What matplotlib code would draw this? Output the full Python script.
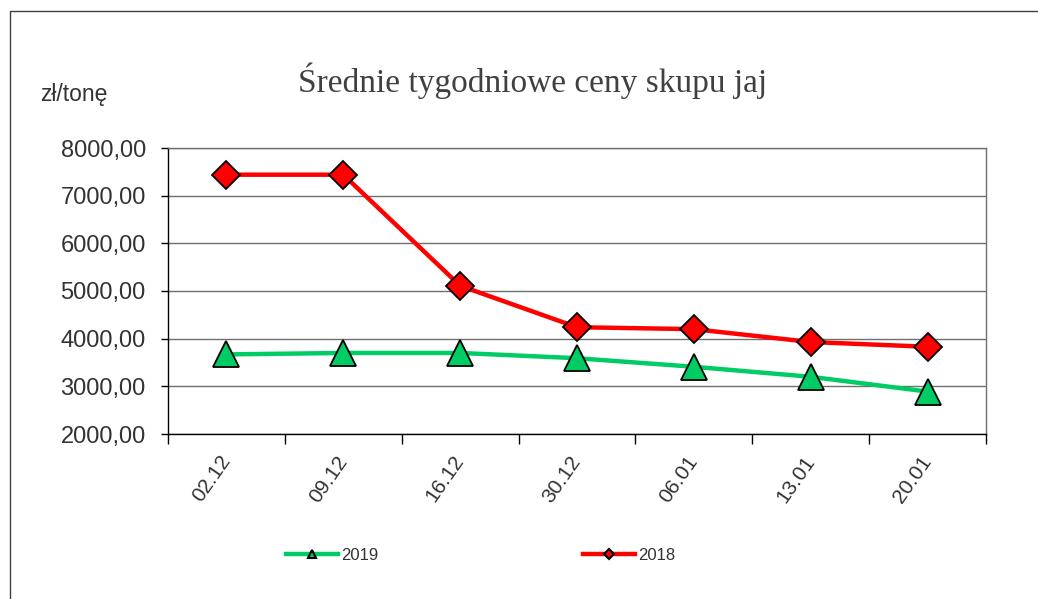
import matplotlib
matplotlib.use("Agg")
import matplotlib.pyplot as plt
from matplotlib.lines import Line2D
from matplotlib.patches import Rectangle
import numpy as np

categories = ["02.12", "09.12", "16.12", "30.12", "06.01", "13.01", "20.01"]
values_2019 = [3670, 3700, 3700, 3590, 3410, 3200, 2890]
values_2018 = [7440, 7440, 5110, 4240, 4200, 3930, 3830]
y_ticks = [2000, 3000, 4000, 5000, 6000, 7000, 8000]

plt.rcParams['font.family'] = ['Liberation Sans', 'DejaVu Sans']

fig = plt.figure(figsize=(10.38, 5.99), dpi=100)
fig.patch.set_facecolor('white')

# outer frame
fig.patches.append(Rectangle((10/1038, -0.05), 1.1, 1 - 11/599 + 0.05,
                             transform=fig.transFigure, fill=False,
                             edgecolor='#404040', linewidth=1.0))

ax = fig.add_axes([168/1038, 1 - 434/599, (986 - 168)/1038, (434 - 148)/599])
x = np.arange(len(categories)) + 0.5

green = '#00CC66'
red = '#FF0000'
ax.plot(x, values_2019, color=green, lw=3.2, marker='^', ms=18.5,
        markerfacecolor=green, markeredgecolor='black', markeredgewidth=1.3,
        zorder=3)
ax.plot(x, values_2018, color=red, lw=3.2, marker='D', ms=14,
        markerfacecolor=red, markeredgecolor='black', markeredgewidth=1.3,
        zorder=4)

txt = '#333333'
ax.set_xlim(0, len(categories))
ax.set_ylim(2000, 8000)
ax.set_yticks(y_ticks)
ax.set_yticklabels([f"{v:.2f}".replace('.', ',') for v in y_ticks],
                   fontsize=17, color=txt)
ax.set_xticks(np.arange(len(categories) + 1))
ax.set_xticklabels([])
ax.set_xticks(x, minor=True)
ax.set_xticklabels(categories, minor=True, rotation=55, ha='right',
                   va='center', rotation_mode='anchor', fontsize=15,
                   color=txt)
ax.tick_params(axis='x', which='major', length=7, width=1, color='black',
               direction='out')
ax.tick_params(axis='x', which='minor', length=0, pad=17)
ax.tick_params(axis='y', length=5, width=1, color='black', direction='out',
               pad=11)

ax.grid(axis='y', color='#707070', lw=1)
ax.set_axisbelow(True)
for s in ['left', 'bottom']:
    ax.spines[s].set_color('black')
    ax.spines[s].set_linewidth(1)
for s in ['top', 'right']:
    ax.spines[s].set_color('#707070')
    ax.spines[s].set_linewidth(1)

fig.text(533/1038, 1 - 92/599, "Średnie tygodniowe ceny skupu jaj",
         family=['Liberation Serif'], fontsize=24, ha='center',
         va='baseline', color='#404040')
fig.text(40/1038, 1 - 95/599, "zł/tonę", fontsize=16.5, ha='left',
         va='center', color=txt)

h1 = Line2D([], [], color=green, lw=3.2, marker='^', ms=6,
            markerfacecolor=green, markeredgecolor='black', markeredgewidth=1.5)
h2 = Line2D([], [], color=red, lw=3.2, marker='D', ms=5,
            markerfacecolor=red, markeredgecolor='black', markeredgewidth=1.5)
fig.legend([h1, h2], ["2019", "2018"], ncol=2, frameon=False,
           loc='center left', bbox_to_anchor=(271/1038, 1 - 555/599),
           fontsize=12, handlelength=3.1, handletextpad=0.2,
           columnspacing=12.3, labelcolor=txt)

fig.savefig("out.png", dpi=100)
